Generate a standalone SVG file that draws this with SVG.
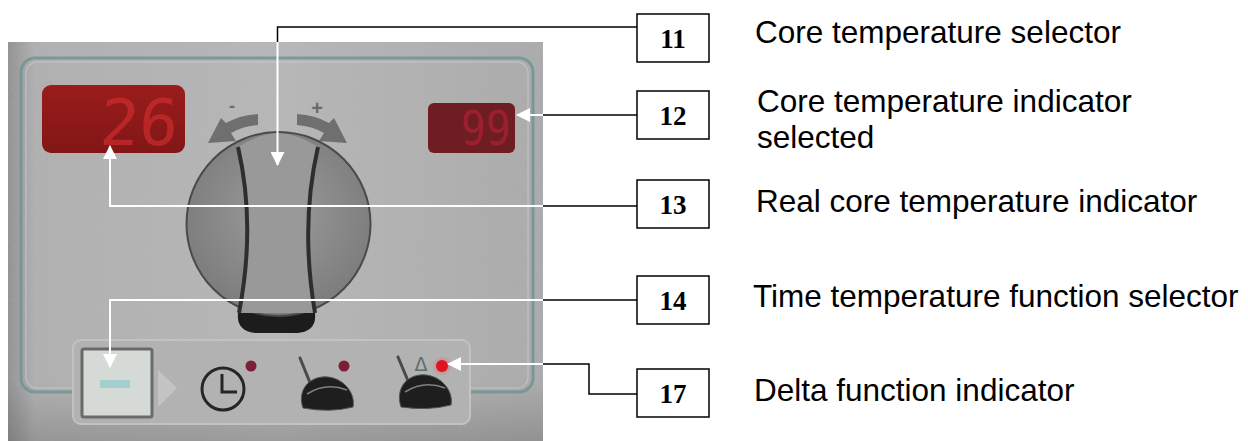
<svg xmlns="http://www.w3.org/2000/svg" width="1248" height="441" viewBox="0 0 1248 441">
<style>
.lbl{font-family:"Liberation Sans",Arial,sans-serif;font-size:31.5px;fill:#000}
.num{font-family:"Liberation Serif","Times New Roman",serif;font-size:27px;font-weight:bold;fill:#000;text-anchor:middle}
.box{fill:#fff;stroke:#000;stroke-width:1.5}
.blk{fill:none;stroke:#000;stroke-width:1.5}
.wht{fill:none;stroke:#fff;stroke-width:2}
.led{fill:#7a1f35}
.probe{fill:#1e1e1e;stroke:#555;stroke-width:1}
.stick{stroke:#4a4a4a;stroke-width:3;stroke-linecap:round}
</style>
<defs>
<linearGradient id="bg" x1="0" y1="0" x2="1" y2="0">
<stop offset="0" stop-color="#8a8a8a"/>
<stop offset="0.05" stop-color="#aeaeae"/>
<stop offset="0.5" stop-color="#b6b6b6"/>
<stop offset="1" stop-color="#a8a8a8"/>
</linearGradient>
<linearGradient id="bgv" x1="0" y1="0" x2="0" y2="1">
<stop offset="0" stop-color="#000" stop-opacity="0"/>
<stop offset="0.85" stop-color="#000" stop-opacity="0"/>
<stop offset="1" stop-color="#000" stop-opacity="0.15"/>
</linearGradient>
<radialGradient id="knob" cx="0.5" cy="0.45" r="0.55">
<stop offset="0" stop-color="#9c9c9c"/>
<stop offset="1" stop-color="#7c7c7c"/>
</radialGradient>
<linearGradient id="disp" x1="0" y1="0" x2="0" y2="1">
<stop offset="0" stop-color="#9a1c1c"/>
<stop offset="1" stop-color="#821616"/>
</linearGradient>
<filter id="grain" x="0" y="0" width="1" height="1">
<feTurbulence type="fractalNoise" baseFrequency="0.8" numOctaves="2" seed="3" result="n"/>
<feColorMatrix in="n" type="matrix" values="0 0 0 0 0.5  0 0 0 0 0.5  0 0 0 0 0.5  0 0 0 0.35 0" result="g"/>
<feComposite in="g" in2="SourceGraphic" operator="atop"/>
</filter>
<radialGradient id="glow">
<stop offset="0" stop-color="#ff3030" stop-opacity="0.6"/>
<stop offset="1" stop-color="#ff3030" stop-opacity="0"/>
</radialGradient>
<marker id="ah" markerUnits="userSpaceOnUse" markerWidth="14" markerHeight="14" refX="13" refY="7" orient="auto">
<path d="M0,0 L14,7 L0,14 Z" fill="#fff"/>
</marker>
</defs>

<g id="photo">
<rect x="8" y="42" width="535" height="399" fill="url(#bg)" filter="url(#grain)"/>
<rect x="8" y="42" width="535" height="399" fill="url(#bgv)"/>
<rect x="21" y="58" width="512" height="334" rx="14" fill="none" stroke="#6d9795" stroke-width="3" opacity="0.85"/>
<rect x="26" y="62" width="502" height="326" rx="11" fill="none" stroke="#c8cccc" stroke-width="1.5" opacity="0.6"/>

<g id="display-left">
<rect x="42" y="85" width="143" height="68" rx="9" fill="url(#disp)"/>
<text x="99" y="145" font-family="'DejaVu Sans Mono',monospace" font-size="64" fill="#d83030" opacity="0.6" textLength="78" lengthAdjust="spacingAndGlyphs" transform="skewX(-4) translate(10,0)">26</text>
</g>
<g id="display-right">
<rect x="428" y="103" width="87" height="50" rx="6" fill="#6e1d22"/>
<text x="461" y="145" font-family="'DejaVu Sans Mono',monospace" font-size="48" fill="#a82030" opacity="0.8" textLength="50" lengthAdjust="spacingAndGlyphs">99</text>
</g>

<g id="knob-arrows" fill="#6f6f6f">
<path d="M258,114 Q240,115 226,123 L221,118 L208,143 L236,141 L231,133 Q243,126 258,125 Z"/>
<path d="M297,114 Q315,115 329,123 L334,118 L347,143 L319,141 L324,133 Q312,126 297,125 Z"/>
<text x="232" y="112" font-family="'Liberation Sans',sans-serif" font-size="18" font-weight="bold" fill="#6a6a6a" text-anchor="middle">-</text>
<text x="317" y="115" font-family="'Liberation Sans',sans-serif" font-size="20" font-weight="bold" fill="#6a6a6a" text-anchor="middle">+</text>
</g>

<g id="knob">
<path d="M238,313 Q236,331 256,333 L298,333 Q317,331 315,313 Z" fill="#1c1c1c"/>
<circle cx="278.5" cy="224" r="92" fill="url(#knob)" stroke="#4a4a4a" stroke-width="2"/>
<path d="M238,147 Q258,134 278,133 Q298,134 318,147 Q300,225 315,313 L239,313 Q255,225 238,147 Z" fill="#999"/>
<path d="M238,147 Q256,225 239,313" fill="none" stroke="#2e2e2e" stroke-width="4"/>
<path d="M318,147 Q300,225 315,313" fill="none" stroke="#2e2e2e" stroke-width="4"/>
</g>

<g id="bottom-panel">
<rect x="73" y="340" width="397" height="84" rx="8" fill="#b2b2b2" stroke="#c2c2c2" stroke-width="2"/>
<rect x="82" y="349" width="70" height="68" rx="2" fill="#d6dad6" stroke="#6a6a6a" stroke-width="3"/>
<rect x="100" y="380" width="30" height="8" fill="#a4cdd0"/>
<polygon points="158,370 177,388 158,407" fill="#c4c4c4"/>
<circle cx="223" cy="389" r="21" fill="none" stroke="#252525" stroke-width="3"/>
<path d="M222,374 V392 H237" fill="none" stroke="#252525" stroke-width="3"/>
<circle class="led" cx="251" cy="366" r="5.5"/>
<line class="stick" x1="300" y1="358" x2="313" y2="390"/>
<path class="probe" d="M303,408 C298,394 305,379 322,377 C340,375 356,391 353,407 Q330,413 303,408 Z"/>
<path d="M307,394 Q326,382 347,390" fill="none" stroke="#808080" stroke-width="1.5"/>
<circle class="led" cx="344" cy="366" r="5.5"/>
<line class="stick" x1="398" y1="357" x2="411" y2="388"/>
<path class="probe" d="M401,407 C396,392 403,377 420,375 C438,373 454,389 451,405 Q428,411 401,407 Z"/>
<path d="M405,392 Q424,380 445,388" fill="none" stroke="#808080" stroke-width="1.5"/>
<text x="421" y="371" font-family="'DejaVu Sans',sans-serif" font-size="19" fill="#5e6c6c" text-anchor="middle">Δ</text>
<circle cx="442" cy="366" r="10" fill="url(#glow)"/>
<circle cx="442" cy="366" r="6" fill="#e0141e"/>
</g>
</g>

<g id="connectors">
<path class="blk" d="M637,27 H277.5 V42"/>
<path class="wht" d="M277.5,42 V165" marker-end="url(#ah)"/>
<path class="blk" d="M637,115 H543"/>
<path class="wht" d="M543,115 H517" marker-end="url(#ah)"/>
<path class="blk" d="M637,206 H543"/>
<path class="wht" d="M543,206 H110 V146" marker-end="url(#ah)"/>
<path class="blk" d="M637,300 H543"/>
<path class="wht" d="M543,300 H110 V367" marker-end="url(#ah)"/>
<path class="blk" d="M637,394 H589 V364 H543"/>
<path class="wht" d="M543,364 H448" marker-end="url(#ah)"/>
</g>

<g id="n11"><rect class="box" x="637" y="14" width="72" height="48"/><text class="num" x="673" y="48">11</text><text class="lbl" x="755" y="43">Core temperature selector</text></g>
<g id="n12"><rect class="box" x="637" y="91" width="72" height="48"/><text class="num" x="673" y="125">12</text><text class="lbl" x="757" y="112">Core temperature indicator</text><text class="lbl" x="757" y="148">selected</text></g>
<g id="n13"><rect class="box" x="637" y="180" width="72" height="48"/><text class="num" x="673" y="214">13</text><text class="lbl" x="756" y="212">Real core temperature indicator</text></g>
<g id="n14"><rect class="box" x="637" y="276" width="72" height="48"/><text class="num" x="673" y="310">14</text><text class="lbl" x="753" y="307">Time temperature function selector</text></g>
<g id="n17"><rect class="box" x="637" y="369" width="72" height="48"/><text class="num" x="673" y="403">17</text><text class="lbl" x="754" y="401">Delta function indicator</text></g>
</svg>
